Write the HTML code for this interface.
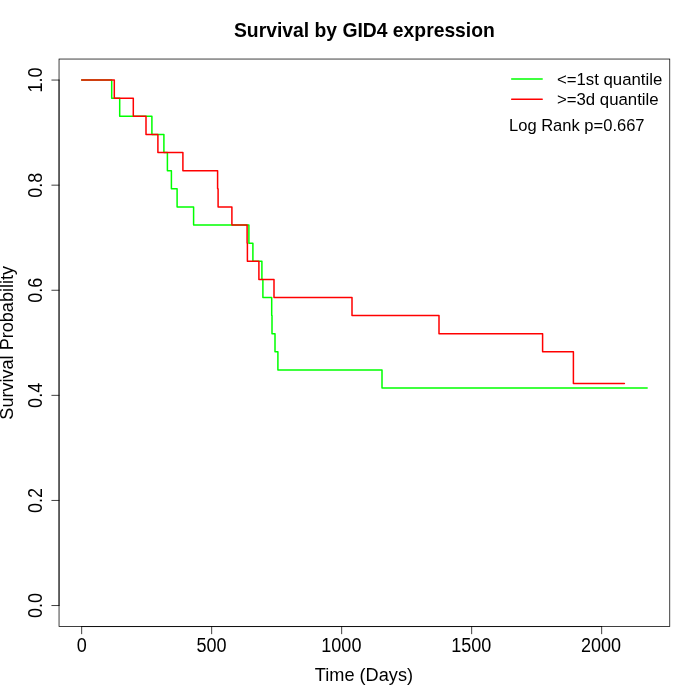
<!DOCTYPE html>
<html lang="en"><head><meta charset="utf-8"><title>Survival by GID4 expression</title>
<style>html,body{margin:0;padding:0;background:#fff;}body{width:700px;height:700px;overflow:hidden;}svg{display:block;}</style></head>
<body>
<svg width="700" height="700" viewBox="0 0 700 700" font-family="'Liberation Sans', sans-serif" fill="#000">
<rect width="700" height="700" fill="#fff"/>
<polyline points="81.66,80.06 111.70,80.06 111.70,98.18 119.70,98.18 119.70,116.30 151.90,116.30 151.90,134.42 163.90,134.42 163.90,152.54 167.40,152.54 167.40,170.66 171.40,170.66 171.40,188.78 177.10,188.78 177.10,206.90 193.60,206.90 193.60,225.02 248.90,225.02 248.90,243.14 252.90,243.14 252.90,261.26 261.90,261.26 261.90,279.38 262.90,279.38 262.90,297.50 271.70,297.50 271.70,315.62 272.00,315.62 272.00,333.74 275.00,333.74 275.00,351.86 277.90,351.86 277.90,369.98 382.00,369.98 382.00,388.10 647.16,388.10" fill="none" stroke="#00ff00" stroke-width="1.5" stroke-linejoin="round" stroke-linecap="round"/>
<polyline points="81.66,80.06 114.30,80.06 114.30,98.18 133.30,98.18 133.30,116.30 146.00,116.30 146.00,134.42 157.90,134.42 157.90,152.54 182.90,152.54 182.90,170.66 217.60,170.66 217.60,188.78 218.10,188.78 218.10,206.90 231.90,206.90 231.90,225.02 247.10,225.02 247.10,243.14 247.40,243.14 247.40,261.26 258.90,261.26 258.90,279.38 274.00,279.38 274.00,297.50 352.00,297.50 352.00,315.62 439.00,315.62 439.00,333.74 542.60,333.74 542.60,351.86 573.40,351.86 573.40,383.57 624.40,383.57" fill="none" stroke="#ff0000" stroke-width="1.5" stroke-linejoin="round" stroke-linecap="round"/>
<g stroke="#000" stroke-width="0.75" fill="none" stroke-linecap="round">
<line x1="81.66" y1="626.56" x2="601.66" y2="626.56"/>
<line x1="81.66" y1="626.56" x2="81.66" y2="633.76"/>
<line x1="211.66" y1="626.56" x2="211.66" y2="633.76"/>
<line x1="341.66" y1="626.56" x2="341.66" y2="633.76"/>
<line x1="471.66" y1="626.56" x2="471.66" y2="633.76"/>
<line x1="601.66" y1="626.56" x2="601.66" y2="633.76"/>
<line x1="59.04" y1="605.54" x2="59.04" y2="80.06"/>
<line x1="59.04" y1="605.54" x2="51.84" y2="605.54"/>
<line x1="59.04" y1="500.44" x2="51.84" y2="500.44"/>
<line x1="59.04" y1="395.35" x2="51.84" y2="395.35"/>
<line x1="59.04" y1="290.25" x2="51.84" y2="290.25"/>
<line x1="59.04" y1="185.16" x2="51.84" y2="185.16"/>
<line x1="59.04" y1="80.06" x2="51.84" y2="80.06"/>
<rect x="59.04" y="59.04" width="610.72" height="567.52"/>
</g>
<g font-size="19.5" text-anchor="middle">
<text transform="translate(81.66,652.0) scale(0.925,1)">0</text>
<text transform="translate(211.51,652.0) scale(0.925,1)">500</text>
<text transform="translate(341.36,652.0) scale(0.925,1)">1000</text>
<text transform="translate(471.21,652.0) scale(0.925,1)">1500</text>
<text transform="translate(601.06,652.0) scale(0.925,1)">2000</text>
<text transform="translate(42.0,605.54) rotate(-90) scale(0.925,1)">0.0</text>
<text transform="translate(42.0,500.44) rotate(-90) scale(0.925,1)">0.2</text>
<text transform="translate(42.0,395.35) rotate(-90) scale(0.925,1)">0.4</text>
<text transform="translate(42.0,290.25) rotate(-90) scale(0.925,1)">0.6</text>
<text transform="translate(42.0,185.16) rotate(-90) scale(0.925,1)">0.8</text>
<text transform="translate(42.0,80.06) rotate(-90) scale(0.925,1)">1.0</text>
<text font-size="19.1" transform="translate(363.95,680.7) scale(0.951,1)">Time (Days)</text>
<text font-size="19.1" transform="translate(13.0,342.80) rotate(-90) scale(0.947,1)">Survival Probability</text>
</g>
<text transform="translate(364.40,36.6) scale(0.9615,1)" font-size="20.1" font-weight="bold" text-anchor="middle">Survival by GID4 expression</text>
<g stroke-width="1.5" fill="none" stroke-linecap="round"><line x1="511.7" y1="79.05" x2="542.2" y2="79.05" stroke="#00ff00"/><line x1="511.7" y1="99.25" x2="542.2" y2="99.25" stroke="#ff0000"/></g>
<g font-size="16.8"><text x="556.9" y="84.8">&lt;=1st quantile</text><text x="556.9" y="105.0">&gt;=3d quantile</text><text transform="translate(509.0,130.6) scale(0.985,1)">Log Rank p=0.667</text></g>
</svg>
</body></html>
